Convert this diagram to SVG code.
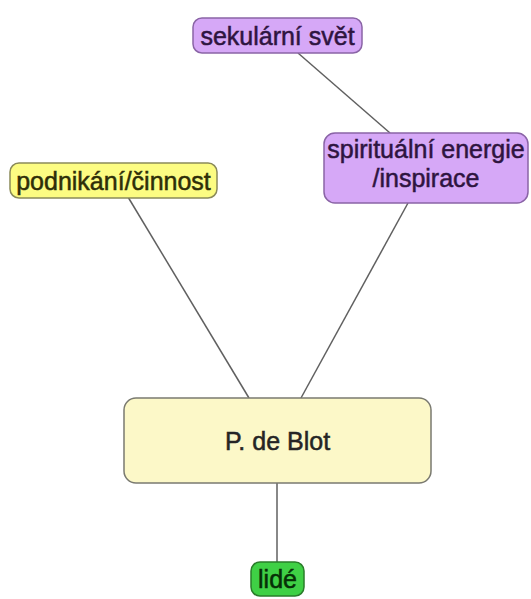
<svg xmlns="http://www.w3.org/2000/svg" width="531" height="599" viewBox="0 0 531 599">
<style>
text{font-family:"Liberation Sans",Arial,sans-serif;font-size:25px;text-anchor:middle;stroke-width:0.5}
.purple rect{fill:#d6a8f7;stroke:#8a64a6;stroke-width:1.5}
.purple text{fill:#2e1440;stroke:#2e1440}
.yellow rect{fill:#fcfc82;stroke:#8a8a5a;stroke-width:1.5}
.yellow text{fill:#2e2e08;stroke:#2e2e08}
.main rect{fill:#fcf8c8;stroke:#7a7a70;stroke-width:1.5}
.main text{fill:#252525;stroke:#252525}
.green rect{fill:#3fd045;stroke:#2a7d2a;stroke-width:1.5}
.green text{fill:#062e06;stroke:#062e06}
#connectors line{stroke:#606060;stroke-width:1.5}
</style>
<rect width="531" height="599" fill="#fff"/>
<g id="connectors">
<line x1="298" y1="53" x2="390" y2="133"/>
<line x1="128" y1="197" x2="249" y2="398"/>
<line x1="408" y1="203" x2="301" y2="398"/>
<line x1="277" y1="483" x2="277" y2="562"/>
</g>
<g id="sekularni-svet" class="purple">
<rect x="193" y="18" width="169" height="35" rx="9"/>
<text x="277.5" y="45">sekulární svět</text>
</g>
<g id="podnikani-cinnost" class="yellow">
<rect x="10" y="163" width="207" height="35" rx="9"/>
<text x="113.5" y="190">podnikání/činnost</text>
</g>
<g id="spiritualni-energie" class="purple">
<rect x="324" y="133" width="204" height="70" rx="11"/>
<text x="426" y="158">spirituální energie</text>
<text x="426" y="187">/inspirace</text>
</g>
<g id="p-de-blot" class="main">
<rect x="124" y="398" width="307" height="85" rx="12"/>
<text x="277.5" y="450">P. de Blot</text>
</g>
<g id="lide" class="green">
<rect x="251" y="562" width="53" height="34" rx="9"/>
<text x="277.5" y="588">lidé</text>
</g>
</svg>
